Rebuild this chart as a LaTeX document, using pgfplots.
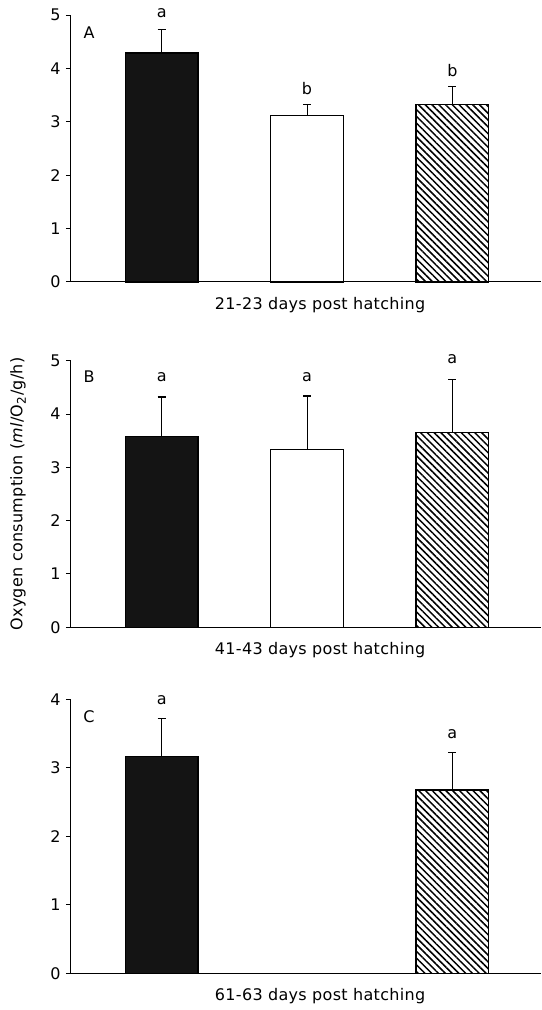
\documentclass[border=0pt]{standalone}
\usepackage{fontspec}
\setmainfont{DejaVu Sans}[LetterSpace=2]
\usepackage{pgfplots}
\pgfplotsset{compat=1.18}
\usetikzlibrary{patterns.meta}

\newcommand{\lbl}{\fontsize{8}{9.6}\selectfont}

\pgfplotsset{
  panel/.style={
    scale only axis, width=235pt,
    xmin=0.376, xmax=3.61, ymin=0,
    axis x line=bottom, axis y line=left,
    axis line style={-, line width=0.5pt},
    xtick=\empty,
    tick align=outside, major tick length=2.5pt,
    ytick style={line width=0.5pt, black},
    yticklabel style={inner sep=0pt, xshift=-2.5pt},
    /pgf/number format/assume math mode=true,
    tick label style={font=\lbl},
    label style={font=\lbl},
    clip=false,
    xlabel style={at={(axis description cs:0.53,0)}, anchor=center, yshift=-11.5pt},
  },
  errs/.style={
    error bars/y dir=plus, error bars/y explicit,
    error bars/error mark=-,
    error bars/error bar style={line width=0.5pt, black},
    error bars/error mark options={line width=0.6pt, mark size=2pt, black, rotate=90},
  },
  blackbar/.style={ybar, bar shift=0pt, bar width=0.5, fill=black!92, draw=black, line width=0.6pt, errs},
  whitebar/.style={ybar, bar shift=0pt, bar width=0.5, fill=white, draw=black, line width=0.6pt, errs},
  hatchbar/.style={ybar, bar shift=0pt, bar width=0.5, draw=black, line width=0.6pt,
    pattern={Lines[angle=-45, distance=2.4pt, line width=0.75pt]}, pattern color=black, errs},
}

\begin{document}
\begin{tikzpicture}
\useasboundingbox (0,0) rectangle (270.5pt,-505pt);

% A: 21-23 days
\begin{axis}[panel, at={(35.5pt,-141pt)}, anchor=south west,
    height=133.4pt, ymax=5, ytick={0,1,2,3,4,5},
    xlabel={21-23 days post hatching}]
\addplot[blackbar] coordinates {(1,4.29) +- (0,0.44)};
\addplot[whitebar] coordinates {(2,3.125) +- (0,0.205)};
\addplot[hatchbar] coordinates {(3,3.325) +- (0,0.345)};
\node[font=\lbl] at (axis cs:0.5,4.68) {A};
\node[font=\lbl] at (axis cs:1,5.03) {a};
\node[font=\lbl] at (axis cs:2,3.625) {b};
\node[font=\lbl] at (axis cs:3,3.97) {b};
\end{axis}

% B: 41-43 days
\begin{axis}[panel, at={(35.5pt,-313.65pt)}, anchor=south west,
    height=133.3pt, ymax=5, ytick={0,1,2,3,4,5},
    xlabel={41-43 days post hatching}]
\addplot[blackbar] coordinates {(1,3.58) +- (0,0.74)};
\addplot[whitebar] coordinates {(2,3.34) +- (0,1.0)};
\addplot[hatchbar] coordinates {(3,3.65) +- (0,1.0)};
\node[font=\lbl] at (axis cs:0.5,4.70) {B};
\node[font=\lbl] at (axis cs:1,4.69) {a};
\node[font=\lbl] at (axis cs:2,4.69) {a};
\node[font=\lbl] at (axis cs:3,5.025) {a};
\end{axis}

% C: 61-63 days
\begin{axis}[panel, at={(35.5pt,-486.65pt)}, anchor=south west,
    height=137pt, ymax=4, ytick={0,1,2,3,4},
    xlabel={61-63 days post hatching}]
\addplot[blackbar] coordinates {(1,3.165) +- (0,0.56)};
\addplot[hatchbar] coordinates {(3,2.675) +- (0,0.545)};
\node[font=\lbl] at (axis cs:0.5,3.745) {C};
\node[font=\lbl] at (axis cs:1,3.985) {a};
\node[font=\lbl] at (axis cs:3,3.485) {a};
\end{axis}

\node[font=\lbl, rotate=90, anchor=center] at (9pt,-247pt)
  {Oxygen consumption (\textit{ml}/O\textsubscript{2}/g/h)};
\end{tikzpicture}
\end{document}
